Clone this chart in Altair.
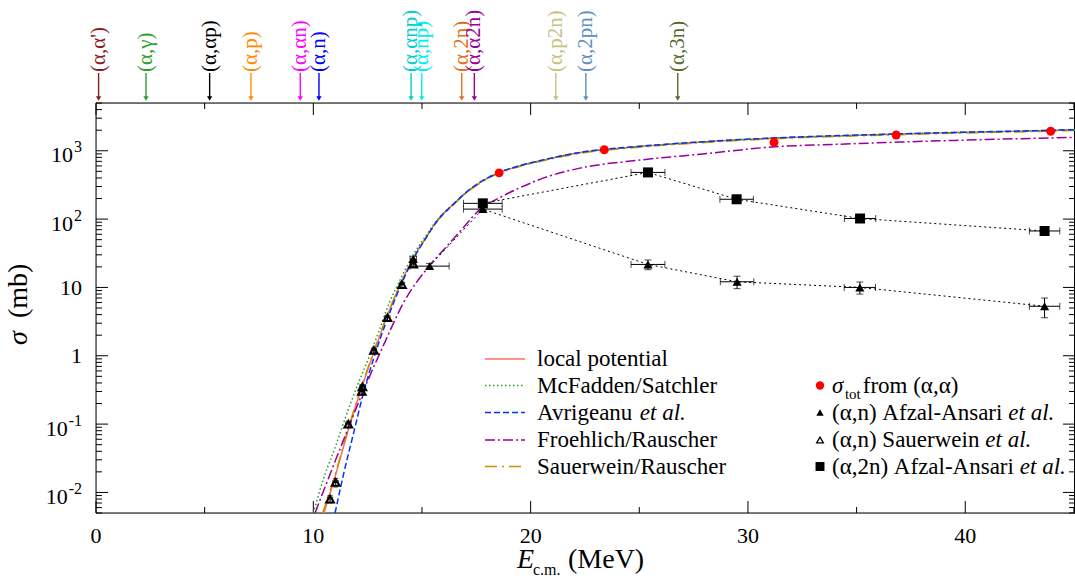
import altair as alt
import pandas as pd

FONT = "Liberation Serif"
W, H = 979, 410

# ---------------- model cross sections: sigma (mb) vs E_cm (MeV) ----------------
E_local = [10.49, 11.0, 11.6, 12.2, 12.8, 13.45, 14.0, 14.6, 15.2, 15.7, 16.4, 17.2, 18.5, 19.5,
           20.5, 22.3, 25.0, 28.0, 31.0, 34.0, 37.0, 40.0, 43.0, 45.05]
S_local = [0.005, 0.017, 0.08, 0.32, 1.15, 4.2, 11, 27, 55, 95, 160, 270, 470, 600,
           720, 940, 1150, 1350, 1520, 1650, 1760, 1860, 1950, 2030]

E_mcf = [10.0, 10.5, 11.0, 11.5, 12.0, 12.5, 13.0, 13.5, 14.0, 14.6, 15.2, 15.7, 16.4, 17.2,
         18.5, 19.5, 20.5, 22.3, 25.0, 28.0, 31.0, 34.0, 37.0, 40.0, 43.0, 45.05]
S_mcf = [0.005, 0.017, 0.045, 0.13, 0.35, 0.85, 2.2, 6.0, 13, 30, 58, 97, 162, 272,
         472, 602, 722, 942, 1150, 1350, 1520, 1650, 1760, 1860, 1950, 2030]

E_avr = [11.0, 11.4, 11.85, 12.3, 12.9, 13.75, 14.6, 15.2, 15.7, 16.4, 17.2, 18.5, 19.5,
         20.5, 22.3, 25.0, 28.0, 31.0, 34.0, 37.0, 40.0, 43.0, 45.05]
S_avr = [0.005, 0.019, 0.073, 0.28, 1.2, 6.6, 26, 54, 94, 160, 272, 475, 605,
         725, 950, 1160, 1360, 1530, 1660, 1770, 1870, 1960, 2040]

E_fr = [10.08, 11.08, 12.46, 13.3, 14.14, 15.3, 16.14, 16.9, 17.67, 18.5, 19.36, 20.8,
        22.27, 25.0, 27.8, 31.26, 34.0, 37.0, 41.0, 45.05]
S_fr = [0.005, 0.033, 0.40, 1.6, 5.9, 20, 40, 75, 139, 200, 274, 420,
        557, 730, 890, 1145, 1240, 1340, 1460, 1570]

E_sr = [10.43, 11.0, 11.6, 12.2, 12.8, 13.45, 14.0, 14.6, 15.2, 15.7, 16.4, 17.2, 18.5, 19.5,
        20.5, 22.3, 25.0, 28.0, 31.0, 34.0, 37.0, 40.0, 43.0, 45.05]
S_sr = [0.005, 0.018, 0.085, 0.34, 1.2, 4.3, 11, 27, 54, 93, 157, 265, 462, 590,
        705, 920, 1125, 1320, 1490, 1615, 1720, 1820, 1905, 1985]

# ---------------- experimental data ----------------
# total reaction cross sections from (alpha,alpha)
E_tot = [18.55, 23.39, 31.2, 36.82, 43.93]
S_tot = [475, 1035, 1330, 1700, 1930]

# (alpha,n) Afzal-Ansari et al.
E_an = [14.6, 15.35, 17.8, 25.4, 29.5, 35.15, 43.65]
S_an = [26, 20.5, 140, 21.7, 12.1, 10.0, 5.3]
dE_an = [0.15, 0.9, 0.89, 0.78, 0.77, 0.72, 0.70]
dS_an = [2.5, 2.0, 12, 3.5, 2.5, 2.0, 1.7]

# (alpha,n) Sauerwein et al.
E_sn = [10.77, 11.03, 11.61, 12.23, 12.26, 12.79, 13.41, 14.08, 14.6]
S_sn = [0.008, 0.014, 0.10, 0.30, 0.35, 1.2, 3.6, 11.0, 22.0]
dE_sn = [0.12, 0.12, 0.12, 0.12, 0.12, 0.12, 0.12, 0.12, 0.12]
dS_sn = [0.001, 0.002, 0.01, 0.03, 0.03, 0.1, 0.3, 1.0, 2.0]

# (alpha,2n) Afzal-Ansari et al.
E_a2n = [17.8, 25.4, 29.48, 35.16, 43.65]
S_a2n = [170, 482, 195, 102, 67]
dE_a2n = [0.89, 0.78, 0.77, 0.72, 0.70]
dS_a2n = [15, 40, 16, 9, 6]

# reaction thresholds (MeV)
R_label = ["(α,α')", "(α,γ)", "(α,αp)", "(α,p)", "(α,αn)", "(α,n)", "(α,αnp)", "(α,np)",
           "(α,2n)", "(α,α2n)", "(α,p2n)", "(α,2pn)", "(α,3n)"]
R_thr = [0.12, 2.30, 5.23, 7.13, 9.40, 10.26, 14.50, 14.99, 16.83, 17.41, 21.16, 22.54, 26.77]
R_color = ["#8b1c1c", "#2ca02c", "#000000", "#ff8c00", "#ff00ff", "#0000ff", "#00ced1",
           "#00eeee", "#e07020", "#990099", "#c8c080", "#5f8fc0", "#556b2f"]

# axis ticks
X_MAJOR = [0, 10, 20, 30, 40]
X_MINOR = [5, 15, 25, 35, 45]
Y_DEC = [0.01, 0.1, 1, 10, 100, 1000]
Y_BASE = ["10", "10", "1", "10", "10", "10"]
Y_EXP = ["-2", "-1", "", "", "2", "3"]

XS = alt.Scale(domain=[0, 45.05], nice=False, zero=False)
YS = alt.Scale(type="log", domain=[0.005, 5000], nice=False)


def X(f):
    return alt.X(f"{f}:Q", scale=XS, axis=None)


def Y(f):
    return alt.Y(f"{f}:Q", scale=YS, axis=None)


# approximate Times advance widths (1/1000 em) for placing mixed-style text
_W = {' ': 250, '(': 333, ')': 333, ',': 250, '.': 250, '-': 333, '/': 278, "'": 180,
      'α': 530, 'σ': 530, 'γ': 440}
for _c in '0123456789':
    _W[_c] = 500
_W.update(dict(A=722, F=556, M=889, R=667, S=556, a=444, b=500, c=444, d=500, e=444, f=333,
               g=500, h=500, i=278, l=278, m=778, n=500, o=500, p=500, r=333, s=389, t=278,
               u=500, v=500, w=722, z=444))
_WI = {'e': 444, 't': 278, ' ': 250, 'a': 500, 'l': 278, '.': 250, 'σ': 560}


def tw(s, size, italic=False):
    tab = _WI if italic else _W
    return sum(tab.get(c, 500) for c in s) * size / 1000.0


one = pd.DataFrame({"k": [0]})


def txt(text, x, y, size, italic=False, color="black", angle=0, align="left",
        baseline="alphabetic"):
    props = dict(text=text, font=FONT, fontSize=size, align=align, baseline=baseline)
    if color != "black":
        props["color"] = color
    if angle:
        props["angle"] = angle
    if italic:
        props["fontStyle"] = "italic"
    return alt.Chart(one).mark_text(**props).encode(x=alt.value(x), y=alt.value(y))


layers = []

# ---------------- frame and inward ticks ----------------
frame = dict(color="black", strokeWidth=1)
layers.append(alt.Chart(one).mark_rule(**frame).encode(
    x=alt.value(0), x2=alt.value(W), y=alt.value(0)))
layers.append(alt.Chart(one).mark_rule(**frame).encode(
    x=alt.value(0), x2=alt.value(W), y=alt.value(H)))
layers.append(alt.Chart(one).mark_rule(**frame).encode(
    x=alt.value(0), y=alt.value(0), y2=alt.value(H)))
layers.append(alt.Chart(one).mark_rule(**frame).encode(
    x=alt.value(W - 0.5), y=alt.value(0), y2=alt.value(H)))

xmaj = pd.DataFrame({"v": X_MAJOR})
xmin = pd.DataFrame({"v": X_MINOR})
for df, ln in ((xmaj, 12), (xmin, 6)):
    layers.append(alt.Chart(df).mark_rule(**frame).encode(
        x=X("v"), y=alt.value(H), y2=alt.value(H - ln)))
    layers.append(alt.Chart(df).mark_rule(**frame).encode(
        x=X("v"), y=alt.value(0), y2=alt.value(ln)))

ymin_vals = []
for d in [0.001, 0.01, 0.1, 1, 10, 100, 1000]:
    for m in range(2, 10):
        v = m * d
        if 0.005 <= v <= 5000:
            ymin_vals.append(v)
ymaj = pd.DataFrame({"v": Y_DEC})
ymin = pd.DataFrame({"v": ymin_vals})
for df, ln in ((ymaj, 12), (ymin, 6)):
    layers.append(alt.Chart(df).mark_rule(**frame).encode(
        y=Y("v"), x=alt.value(0), x2=alt.value(ln)))
    layers.append(alt.Chart(df).mark_rule(**frame).encode(
        y=Y("v"), x=alt.value(W), x2=alt.value(W - ln)))

# ---------------- model curves ----------------
MODELS = [
    ("local potential", E_local, S_local, "#f8705c", None),
    ("Sauerwein/Rauscher", E_sr, S_sr, "#cc8f00", [12, 5, 2, 5]),
    ("McFadden/Satchler", E_mcf, S_mcf, "#22a022", [1.5, 2.5]),
    ("Froehlich/Rauscher", E_fr, S_fr, "#990099", [10, 3, 2, 3]),
    ("Avrigeanu et al.", E_avr, S_avr, "#0033ff", [6, 3]),
]
for name, E, S, col, dash in MODELS:
    props = dict(color=col, strokeWidth=1.5, interpolate="monotone")
    if dash:
        props["strokeDash"] = dash
    layers.append(alt.Chart(pd.DataFrame({"E": E, "S": S})).mark_line(**props).encode(
        x=X("E"), y=Y("S")))


# ---------------- error bars ----------------
def errorbars(E, S, dE, dS, cap=7):
    df = pd.DataFrame({
        "E": E, "S": S,
        "lo": [e - d for e, d in zip(E, dE)], "hi": [e + d for e, d in zip(E, dE)],
        "slo": [s - d for s, d in zip(S, dS)], "shi": [s + d for s, d in zip(S, dS)],
    })
    out = [
        alt.Chart(df).mark_rule(color="black", strokeWidth=1).encode(
            x=X("lo"), x2=alt.X2("hi"), y=Y("S")),
        alt.Chart(df).mark_rule(color="black", strokeWidth=1).encode(
            x=X("E"), y=Y("slo"), y2=alt.Y2("shi")),
    ]
    hcap = dict(shape="stroke", size=cap * cap, filled=False, color="black", strokeWidth=1)
    vcap = dict(hcap, angle=90)
    out.append(alt.Chart(df).mark_point(**vcap).encode(x=X("lo"), y=Y("S")))
    out.append(alt.Chart(df).mark_point(**vcap).encode(x=X("hi"), y=Y("S")))
    out.append(alt.Chart(df).mark_point(**hcap).encode(x=X("E"), y=Y("slo")))
    out.append(alt.Chart(df).mark_point(**hcap).encode(x=X("E"), y=Y("shi")))
    return out


# dotted connections of the Afzal-Ansari data
an_df = pd.DataFrame({"E": E_an, "S": S_an})
a2n_df = pd.DataFrame({"E": E_a2n, "S": S_a2n})
dotted = dict(color="black", strokeWidth=1, strokeDash=[2, 3])
layers.append(alt.Chart(an_df[an_df.E > 15]).mark_line(**dotted).encode(x=X("E"), y=Y("S")))
layers.append(alt.Chart(a2n_df).mark_line(**dotted).encode(x=X("E"), y=Y("S")))

layers += errorbars(E_sn, S_sn, dE_sn, dS_sn, cap=5)
layers += errorbars(E_an, S_an, dE_an, dS_an)
layers += errorbars(E_a2n, S_a2n, dE_a2n, dS_a2n)

# markers
layers.append(alt.Chart(pd.DataFrame({"E": E_sn, "S": S_sn})).mark_point(
    shape="triangle-up", size=60, filled=False, color="black", strokeWidth=2, opacity=1).encode(
    x=X("E"), y=Y("S")))
layers.append(alt.Chart(an_df).mark_point(
    shape="triangle-up", size=85, filled=True, color="black", opacity=1).encode(
    x=X("E"), y=Y("S")))
layers.append(alt.Chart(a2n_df).mark_point(
    shape="square", size=100, filled=True, color="black", opacity=1).encode(
    x=X("E"), y=Y("S")))
layers.append(alt.Chart(pd.DataFrame({"E": E_tot, "S": S_tot})).mark_point(
    shape="circle", size=80, filled=True, color="#ff0000", opacity=1).encode(
    x=X("E"), y=Y("S")))

# ---------------- reaction thresholds above the frame ----------------
thr_df = pd.DataFrame({"thr": R_thr, "label": R_label})
cscale = alt.Color("label:N", scale=alt.Scale(domain=R_label, range=R_color), legend=None)
layers.append(alt.Chart(thr_df).mark_rule(strokeWidth=1.4).encode(
    x=X("thr"), y=alt.value(-30), y2=alt.value(-4), color=cscale))
layers.append(alt.Chart(thr_df).mark_point(
    shape="triangle-down", size=28, filled=True, opacity=1).encode(
    x=X("thr"), y=alt.value(-4.5), color=cscale))
layers.append(alt.Chart(thr_df).mark_text(
    font=FONT, fontSize=21, angle=270, align="left", baseline="middle").encode(
    x=X("thr"), y=alt.value(-31), text="label:N", color=cscale))

# ---------------- tick labels ----------------
layers.append(alt.Chart(xmaj).mark_text(
    font=FONT, fontSize=22, align="center", baseline="alphabetic").encode(
    x=X("v"), y=alt.value(H + 30), text=alt.Text("v:Q", format="d")))

for val, b, e in zip(Y_DEC, Y_BASE, Y_EXP):
    vdf = pd.DataFrame({"v": [val]})
    if e:
        ex = -14
        layers.append(alt.Chart(vdf).mark_text(
            text=e, font=FONT, fontSize=16, align="right", baseline="alphabetic", dy=1.6).encode(
            x=alt.value(ex), y=Y("v")))
        layers.append(alt.Chart(vdf).mark_text(
            text=b, font=FONT, fontSize=22, align="right", baseline="alphabetic", dy=11.6).encode(
            x=alt.value(ex - tw(e, 16) - 1), y=Y("v")))
    else:
        layers.append(alt.Chart(vdf).mark_text(
            text=b, font=FONT, fontSize=22, align="right", baseline="alphabetic", dy=7.5).encode(
            x=alt.value(-14), y=Y("v")))

# ---------------- axis titles ----------------
layers.append(txt("σ", -69, 242, 28, italic=True, angle=270))
layers.append(txt("(mb)", -69, 215, 28, angle=270))
layers.append(txt("E", 421, 465, 28, italic=True))
layers.append(txt("c.m.", 437, 472, 16))
layers.append(txt("(MeV)", 472, 465, 28))

# ---------------- legend ----------------
LX0, LX1, LT = 389, 429, 441
ROWS = [256, 282.5, 309.5, 337, 363.5]
LEG_FS = 23
leg_lines = [
    ("local potential", None, "#f8705c", None),
    ("McFadden/Satchler", None, "#22a022", [1.5, 2.5]),
    ("Avrigeanu ", "et al.", "#0033ff", [6, 3]),
    ("Froehlich/Rauscher", None, "#990099", [10, 3, 2, 3]),
    ("Sauerwein/Rauscher", None, "#cc8f00", [12, 5, 2, 5]),
]
for (t, it, col, dash), ry in zip(leg_lines, ROWS):
    props = dict(color=col, strokeWidth=1.5)
    if dash:
        props["strokeDash"] = dash
    layers.append(alt.Chart(one).mark_rule(**props).encode(
        x=alt.value(LX0), x2=alt.value(LX1), y=alt.value(ry)))
    layers.append(txt(t, LT, ry, LEG_FS, baseline="middle"))
    if it:
        layers.append(txt(it, LT + tw(t, LEG_FS), ry, LEG_FS, italic=True, baseline="middle"))

SX, ST = 724, 736
# sigma_tot from (alpha,alpha)
ry = ROWS[1]
layers.append(alt.Chart(one).mark_point(shape="circle", size=70, filled=True,
                                        color="#ff0000", opacity=1).encode(
    x=alt.value(SX), y=alt.value(ry)))
layers.append(txt("σ", ST, ry, LEG_FS, italic=True, baseline="middle"))
xs = ST + tw("σ", LEG_FS, italic=True)
layers.append(txt("tot", xs, ry + 8, 15, baseline="middle"))
xs += tw("tot", 15) + 2
layers.append(txt(" from (α,α)", xs, ry, LEG_FS, baseline="middle"))

leg_pts = [
    ("(α,n) Afzal-Ansari ", dict(shape="triangle-up", size=55, filled=True, color="black",
                                 opacity=1)),
    ("(α,n) Sauerwein ", dict(shape="triangle-up", size=45, filled=False, color="black",
                              strokeWidth=1.3, opacity=1)),
    ("(α,2n) Afzal-Ansari ", dict(shape="square", size=80, filled=True, color="black",
                                  opacity=1)),
]
for (t, mk), ry in zip(leg_pts, ROWS[2:]):
    layers.append(alt.Chart(one).mark_point(**mk).encode(x=alt.value(SX), y=alt.value(ry)))
    layers.append(txt(t, ST, ry, LEG_FS, baseline="middle"))
    layers.append(txt("et al.", ST + tw(t, LEG_FS), ry, LEG_FS, italic=True,
                      baseline="middle"))

chart = alt.layer(*layers).properties(
    width=W, height=H,
    padding={"left": 96, "top": 103, "right": 0, "bottom": 72},
    autosize="none",
)

chart.save("out.html", embed_options={"renderer": "svg", "actions": False})
